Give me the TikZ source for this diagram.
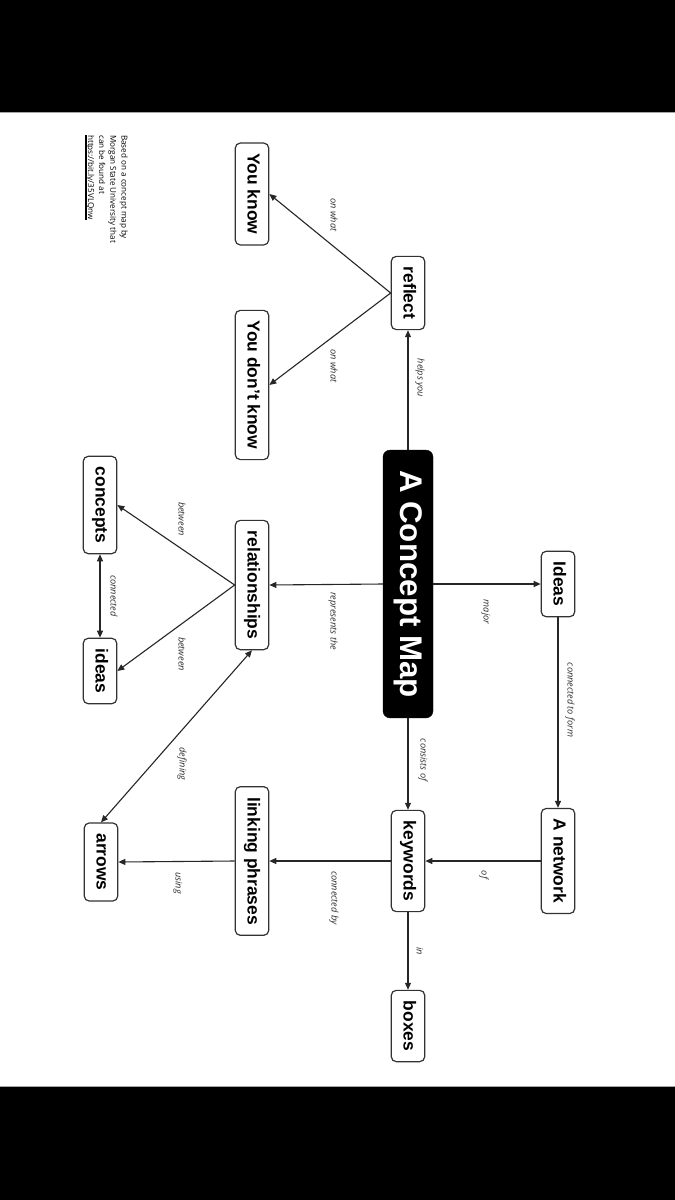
\documentclass[tikz,border=0pt]{standalone}
\usepackage{fontspec}
\setmainfont{Liberation Sans}
\newfontfamily\lblfont{Open Sans}
\usetikzlibrary{arrows.meta}
\newcommand\thickul[1]{\setbox0\hbox{#1}\rlap{\rule[-2.6pt]{\wd0}{1.6pt}}\box0}
\begin{document}
\begin{tikzpicture}[x=1pt,y=-1pt,
  concept/.style={draw=black!80, line width=1.2pt, rounded corners=5pt, fill=white,
    rotate=-90, font=\bfseries\fontsize{17.4}{20}\selectfont, inner xsep=10.5pt, inner ysep=0pt,
    minimum height=33.5pt, text height=12.6pt, text depth=3.7pt},
  mainbox/.style={fill=black, draw=black, rounded corners=7pt, text=white, rotate=-90,
    font=\bfseries\fontsize{31.3}{36}\selectfont, inner xsep=20pt, inner ysep=0pt,
    minimum height=50pt, text height=22.5pt, text depth=6.5pt},
  lbl/.style={rotate=-90, font=\lblfont\itshape\fontsize{9.2}{11}\selectfont, text=black!82, inner sep=0pt},
  conn/.style={draw=black!85, line width=1.1pt, -{Triangle[length=7pt,width=6pt]}},
  both/.style={draw=black!85, line width=1.1pt, {Triangle[length=7pt,width=6pt]}-{Triangle[length=7pt,width=6pt]}}
]
\fill[white] (0,0) rectangle (675,1200);
\useasboundingbox (0,0) rectangle (675,1200);
\fill[black] (0,0) rectangle (675,112);
\fill[black] (0,1087) rectangle (675,1200);
\draw[black!35, line width=0.8pt] (0,112.6) -- (675,112.6);
\draw[black!35, line width=0.8pt] (0,1086.4) -- (675,1086.4);

% nodes
\node[mainbox] (main) at (408,584) {A Concept Map};
\node[concept] (reflect) at (408,293) {reflect};
\node[concept] (youknow) at (252,194) {You know};
\node[concept] (youdont) at (252,385) {You don’t know};
\node[concept] (ideas) at (558,584) {Ideas};
\node[concept] (network) at (558,861) {A network};
\node[concept] (keywords) at (408,861) {keywords};
\node[concept] (boxes) at (408,1026) {boxes};
\node[concept] (linking) at (252,861) {linking phrases};
\node[concept] (arrowsn) at (101,862) {arrows};
\node[concept] (rel) at (252,585) {relationships};
\node[concept] (concepts) at (100,505) {concepts};
\node[concept] (ideasl) at (100,671) {ideas};

% connectors
\draw[conn] (main.west) -- (reflect.east);
\draw[conn] (reflect.south) -- (youknow.north);
\draw[conn] (reflect.south) -- (youdont.north);
\draw[conn] (main.north) -- (ideas.south);
\draw[conn] (ideas.east) -- (network.west);
\draw[conn] (network.south) -- (keywords.north);
\draw[conn] (main.east) -- (keywords.west);
\draw[conn] (keywords.east) -- (boxes.west);
\draw[conn] (keywords.south) -- (linking.north);
\draw[conn] (linking.south) -- (arrowsn.north);
\draw[conn] (main.south) -- (rel.north);
\draw[conn] (rel.south) -- (concepts.north);
\draw[conn] (rel.south) -- (ideasl.north);
\draw[both] (concepts.east) -- (ideasl.west);
\draw[both] (rel.east) -- (arrowsn.west);

% labels
\node[lbl] (l1) at (420,378) {helps you};
\node[lbl] (l2) at (334,215) {on what};
\node[lbl] (l3) at (334,366) {on what};
\node[lbl] (l4) at (486,612) {major};
\node[lbl] (l5) at (570,700) {connected to form};
\node[lbl] (l6) at (484,875) {of};
\node[lbl] (l7) at (423,760) {consists of};
\node[lbl] (l8) at (420,951) {in};
\node[lbl] (l9) at (334,898) {connected by};
\node[lbl] (l10) at (178,883) {using};
\node[lbl] (l11) at (333,621) {represents the};
\node[lbl] (l12) at (182,519) {between};
\node[lbl] (l13) at (182,654) {between};
\node[lbl] (l14) at (114,596) {connected};
\node[lbl] (l15) at (182,764) {defining};

% footnote
\node[rotate=-90, anchor=north west, align=left, inner sep=0pt,
  font=\lblfont\fontsize{8.1}{11.2}\selectfont] (note) at (128,135)
  {Based on a concept map by\\ Morgan State University that\\ can be found at\\ \thickul{https://bit.ly/35VLQnw}};
\end{tikzpicture}
\end{document}
